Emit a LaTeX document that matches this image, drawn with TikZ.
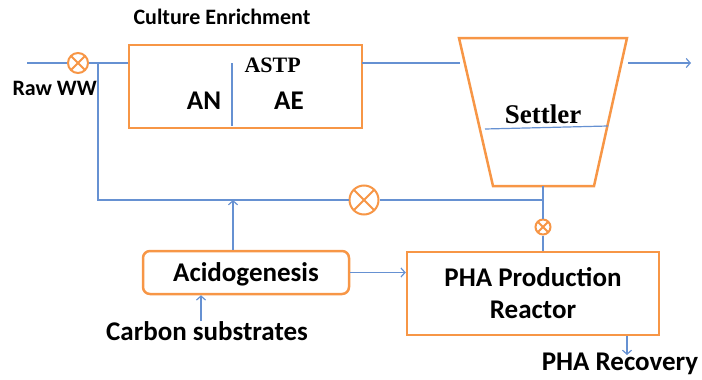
\documentclass[tikz,border=0pt]{standalone}
\usepackage{fontspec}
\setmainfont{Carlito}
\newfontfamily\serifb{Liberation Serif}
\usetikzlibrary{arrows.meta}
\definecolor{lblue}{RGB}{102,145,210}
\definecolor{orng}{RGB}{247,150,70}
\begin{document}
\begin{tikzpicture}[x=1pt,y=-1pt,
  flow/.style={draw=lblue,line width=1.2pt},
  arr/.style={flow,-{Straight Barb[length=4pt,width=9pt]}},
  obox/.style={draw=orng,line width=2.5pt,inner sep=0pt},
  big/.style={font=\bfseries\fontsize{27}{30}\selectfont},
  mid/.style={font=\bfseries\fontsize{22}{24}\selectfont},
  valve/.style={circle,draw=orng,line width=2pt,fill=white,inner sep=0pt,minimum size=#1,
    path picture={\draw[orng,line width=2pt]
      (path picture bounding box.north west)--(path picture bounding box.south east)
      (path picture bounding box.north east)--(path picture bounding box.south west);}}]
\useasboundingbox (0,0) rectangle (702,380);

% culture enrichment box
\node[obox,minimum width=233pt,minimum height=83pt] (ce) at (245.5,86.5) {};
\node[mid,anchor=base] (title) at (222,24) {Culture Enrichment};
\node[font=\serifb\bfseries\fontsize{22}{24}\selectfont,anchor=base west] (astp) at (241,72) {ASTP};
\node[big,anchor=base] (an) at (204,109) {AN};
\node[big,anchor=base] (ae) at (289,109) {AE};
\coordinate (dtop) at (232,63);
\coordinate (dbot) at (232,126);
\draw[flow] (dtop) -- (dbot);

% raw ww
\coordinate (rawin) at (27,63);
\node[valve=20pt] (v1) at (78,63) {};
\node[mid,anchor=base west] (raw) at (9,95) {Raw WW};
\coordinate (j1) at (98,63);
\coordinate (j2) at (98,200);
\draw[flow] (rawin) -- (v1.west);
\draw[flow] (v1.east) -- (v1.east -| ce.west);

% settler
\coordinate (s1) at (459,38);
\coordinate (s2) at (627,38);
\coordinate (s3) at (594,186);
\coordinate (s4) at (493,186);
\draw[orng,line width=2.5pt,line join=miter] (s1) -- (s2) -- (s3) -- (s4) -- cycle;
\node[font=\serifb\bfseries\fontsize{27}{30}\selectfont,anchor=base] (settler) at (543,123) {Settler};
\coordinate (sl1) at (485,129);
\coordinate (sl2) at (608,126);
\draw[flow] (sl1) -- (sl2);
\coordinate (ceo) at (362,63);
\coordinate (sin) at (460,63);
\draw[flow] (ceo) -- (sin);
\coordinate (sout) at (628,63);
\coordinate (eff) at (691,63);
\draw[arr] (sout) -- (eff);

% recycle
\node[valve=29pt] (v2) at (364,200) {};
\coordinate (sb) at (543,186);
\coordinate (j3) at (543,200);
\draw[flow] (j1) -- (j2) -- (v2.west);
\draw[flow] (v2.east) -- (j3);
\node[valve=15pt] (v3) at (543,227) {};
\draw[flow] (sb) -- (v3.north);

% acidogenesis
\node[obox,rounded corners=7pt,minimum width=206pt,minimum height=43pt,
  big,text height=17.4pt,text depth=0pt] (acid) at (246,272.5) {Acidogenesis};
\coordinate (aup) at (233,200);
\draw[arr] (acid.north -| aup) -- (aup);
\node[big,anchor=base] (carb) at (207,340) {Carbon substrates};
\coordinate (cin) at (201,321);
\draw[arr] (cin) -- (acid.south -| cin);

% PHA reactor
\node[obox,minimum width=252pt,minimum height=83pt] (pha) at (533,293.5) {};
\node[big,anchor=base] (pha1) at (533,286) {PHA Production};
\node[big,anchor=base] (pha2) at (533,318) {Reactor};
\draw[flow] (v3.south) -- (pha.north -| v3);
\draw[arr] (acid.east) -- (acid.east -| pha.west);
\coordinate (rec) at (627,355);
\draw[arr] (pha.south -| rec) -- (rec);
\node[big,anchor=base] (phar) at (620,370) {PHA Recovery};
\end{tikzpicture}
\end{document}
